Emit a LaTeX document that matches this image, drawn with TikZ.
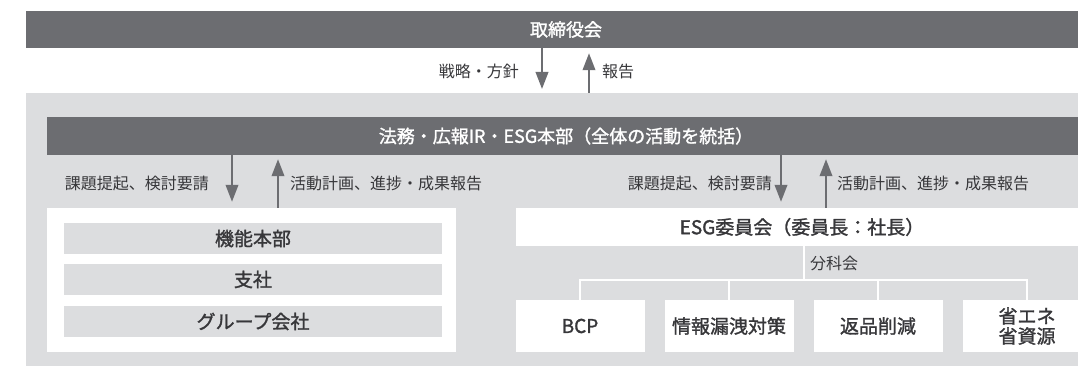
\documentclass[tikz,border=0pt]{standalone}
\usepackage{fontspec}
\setmainfont{Noto Sans CJK JP}
\newfontfamily\medjp{Noto Sans CJK JP}[FakeBold=1.4]
\usetikzlibrary{arrows.meta}
\definecolor{darkbar}{RGB}{108,109,113}
\definecolor{lightbg}{RGB}{220,221,223}
\definecolor{txt}{RGB}{55,55,58}
\begin{document}
\begin{tikzpicture}[x=1pt,y=-1pt,
  bar/.style={fill=darkbar, text=white, font=\fontsize{18}{20}\selectfont\medjp, inner sep=0pt},
  panel/.style={fill=lightbg, inner sep=0pt},
  wbox/.style={fill=white, inner sep=0pt},
  gbox/.style={fill=lightbg, text=txt, font=\fontsize{19}{21}\selectfont\medjp, inner sep=0pt, minimum width=378pt, minimum height=31pt},
  sub/.style={fill=white, text=txt, font=\fontsize{19}{20}\selectfont\medjp, inner sep=0pt, minimum width=129pt, minimum height=52pt, align=center},
  lbl/.style={text=txt, font=\fontsize{16}{18}\selectfont, inner sep=0pt},
  arr/.style={draw=darkbar, line width=2.2pt, -{Triangle[width=12.5pt,length=17pt]}},
  treeline/.style={draw=white, line width=2.5pt}]
\useasboundingbox (0,0) rectangle (1078,366);
\clip (0,0) rectangle (1078,366);

% top board bar
\node[bar, minimum width=1080pt, minimum height=37pt] (board) at (566,29.5) {取締役会};
% light panel
\node[panel, anchor=north west, minimum width=1090pt, minimum height=290pt] (panel) at (25.8,93) {};
% HQ bar
\node[bar, minimum width=1039pt, minimum height=38pt] (hq) at (566,136) {法務・広報IR・ESG本部（全体の活動を統括）};

% left white box and rows
\node[wbox, minimum width=409pt, minimum height=144pt] (left) at (251,280) {};
\node[gbox] (r1) at (253,238.5) {機能本部};
\node[gbox] (r2) at (253,279.5) {支社};
\node[gbox] (r3) at (253,321.5) {グループ会社};

% ESG committee
\node[wbox, text=txt, font=\fontsize{19}{21}\selectfont\medjp, minimum width=573pt, minimum height=38pt] (esg) at (802,227) {ESG委員会（委員長：社長）};

% sub-committees
\node[sub] (b1) at (580,326) {BCP};
\node[sub] (b2) at (729,326) {情報漏洩対策};
\node[sub] (b3) at (878,326) {返品削減};
\node[sub] (b4) at (1027,326) {省エネ\\省資源};

% tree
\coordinate (hub) at (804,280);
\draw[treeline] (esg.south -| hub) -- (hub);
\draw[treeline] (b1.north) |- (hub);
\draw[treeline] (b2.north) |- (hub);
\draw[treeline] (b3.north) |- (hub);
\draw[treeline] (b4.north) |- (hub);
\node[lbl, anchor=west] (bunka) at (810,263) {分科会};

% top arrows
\coordinate (ta) at (542,0);
\coordinate (tb) at (589,0);
\draw[arr, shorten >=4pt] (board.south -| ta) -- (panel.north -| ta);
\draw[arr, shorten >=5pt] (panel.north -| tb) -- (board.south -| tb);
\node[lbl, anchor=east] (senryaku) at (519,71) {戦略・方針};
\node[lbl, anchor=west] (houkoku) at (602,71) {報告};

% left arrows
\coordinate (la) at (232,0);
\coordinate (lb) at (278,0);
\draw[arr, shorten >=6pt] (hq.south -| la) -- (left.north -| la);
\draw[arr, shorten >=4pt] (left.north -| lb) -- (hq.south -| lb);
\node[lbl, anchor=east] (l1) at (209,183) {課題提起、検討要請};
\node[lbl, anchor=west] (l2) at (290,183) {活動計画、進捗・成果報告};

% right arrows
\coordinate (ra) at (781,0);
\coordinate (rb) at (826,0);
\draw[arr, shorten >=6pt] (hq.south -| ra) -- (esg.north -| ra);
\draw[arr, shorten >=4pt] (esg.north -| rb) -- (hq.south -| rb);
\node[lbl, anchor=east] (r1l) at (772,183) {課題提起、検討要請};
\node[lbl, anchor=west] (r2l) at (837,183) {活動計画、進捗・成果報告};
\end{tikzpicture}
\end{document}
